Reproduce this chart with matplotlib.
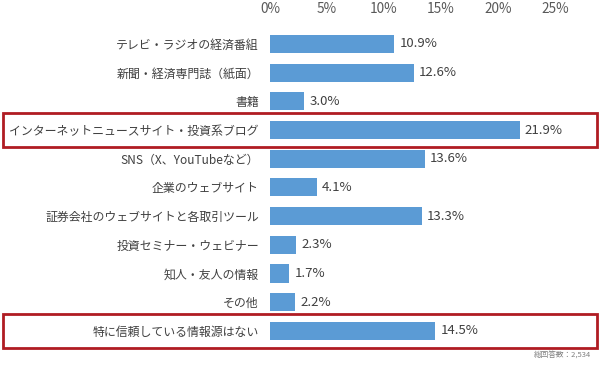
import matplotlib.pyplot as plt
from matplotlib.patches import Rectangle
import matplotlib.transforms as mtransforms

plt.rcParams['font.family'] = ['Noto Sans CJK JP', 'DejaVu Sans']

categories = [
    'テレビ・ラジオの経済番組',
    '新聞・経済専門誌（紙面）',
    '書籍',
    'インターネットニュースサイト・投資系ブログ',
    'SNS（X、YouTubeなど）',
    '企業のウェブサイト',
    '証券会社のウェブサイトと各取引ツール',
    '投資セミナー・ウェビナー',
    '知人・友人の情報',
    'その他',
    '特に信頼している情報源はない',
]
values = [10.9, 12.6, 3.0, 21.9, 13.6, 4.1, 13.3, 2.3, 1.7, 2.2, 14.5]
highlight = [3, 10]
ticks = [0, 5, 10, 15, 20, 25]
note = '総回答数：2,534'

fig = plt.figure(figsize=(6, 3.65), dpi=100)
ax = fig.add_axes([0.45, 0.054, 0.475, 0.865])

y = list(range(len(categories)))
ax.barh(y, values, height=0.63, color='#5B9BD5')
for yi, v in zip(y, values):
    ax.text(v + 0.45, yi, f'{v:.1f}%', va='center', ha='left',
            fontsize=9.5, color='#404040')

ax.set_xlim(0, 25)
ax.set_ylim(len(categories) - 0.5, -0.5)
ax.set_yticks(y)
ax.set_yticklabels(categories, fontsize=8.6, color='#404040')
ax.set_xticks(ticks)
ax.set_xticklabels([f'{t}%' for t in ticks], fontsize=9.8, color='#595959')
ax.xaxis.tick_top()
ax.tick_params(axis='x', length=0, pad=10)
ax.tick_params(axis='y', length=0, pad=8)
for s in ax.spines.values():
    s.set_visible(False)

trans = mtransforms.blended_transform_factory(fig.transFigure, ax.transData)
for i in highlight:
    ax.add_patch(Rectangle((0.005, i - 0.59), 0.99, 1.18, transform=trans,
                           fill=False, edgecolor='#B01C22', linewidth=2,
                           clip_on=False))

fig.text(0.985, 0.015, note, ha='right', va='bottom', fontsize=5.5,
         color='#808080')

fig.savefig('out.png', dpi=100)
